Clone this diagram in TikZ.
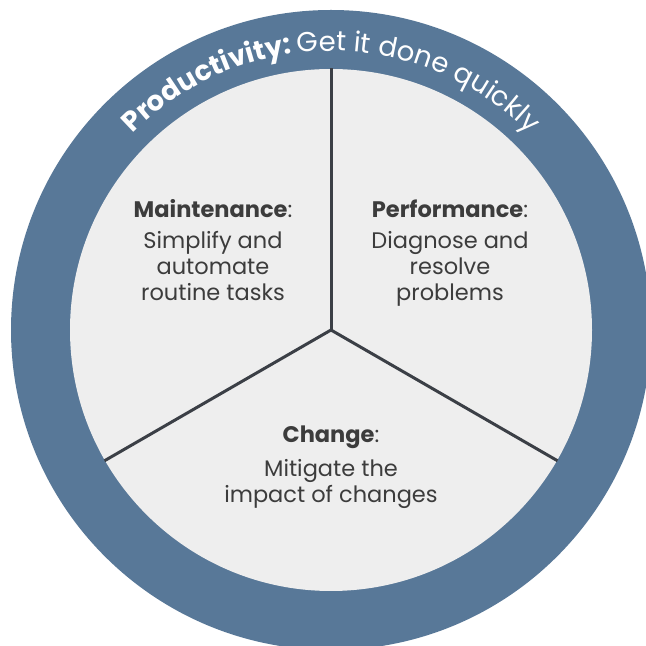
\documentclass[tikz,border=0pt]{standalone}
\usepackage{fontspec}
\setmainfont{Poppins}
\newfontfamily\ringfont{Poppins}
\usetikzlibrary{decorations.text,calc}
\definecolor{ringblue}{RGB}{88,120,152}
\definecolor{innergray}{RGB}{238,238,238}
\definecolor{linegray}{RGB}{59,63,70}
\definecolor{txtgray}{RGB}{60,60,60}
\begin{document}
\begin{tikzpicture}[x=1pt,y=1pt,
  divider/.style={draw=linegray,line width=3pt},
  head/.style={anchor=base,inner sep=0pt,text=txtgray,font=\fontsize{22.5}{26}\selectfont},
  desc/.style={anchor=base,inner sep=0pt,text=txtgray,align=center,font=\fontsize{22.5}{26}\selectfont}]
\useasboundingbox (0,0) rectangle (646,646);
\fill[white] (0,0) rectangle (646,646);
\coordinate (c) at (331,316);
\fill[ringblue] (c) circle[radius=320];
\fill[innergray] (c) circle[radius=261];
\coordinate (t1) at ($(c)+(90:261.5)$);
\coordinate (t2) at ($(c)+(210:261.5)$);
\coordinate (t3) at ($(c)+(330:261.5)$);
\draw[divider] (c) -- (t1);
\draw[divider] (c) -- (t2);
\draw[divider] (c) -- (t3);
\path[decorate,decoration={text along path,text align=center,
  text={|\ringfont\fontsize{27.5}{31}\selectfont\bfseries\color{white}|Productivity: |\ringfont\fontsize{27.5}{31}\selectfont\mdseries\color{white}|Get it done quickly}}]
  ($(c)+(175:279)$) arc[start angle=175,end angle=5,radius=279];
\node[head] (mh) at (213,428) {\textbf{Maintenance}:};
\node[desc] (md) at (213,345) {Simplify and\\automate\\routine tasks};
\node[head] (ph) at (450,428) {\textbf{Performance}:};
\node[desc] (pd) at (450,345) {Diagnose and\\resolve\\problems};
\node[head] (ch) at (331,203) {\textbf{Change}:};
\node[desc] (cd) at (331,143.5) {Mitigate the\\impact of changes};
\end{tikzpicture}
\end{document}
